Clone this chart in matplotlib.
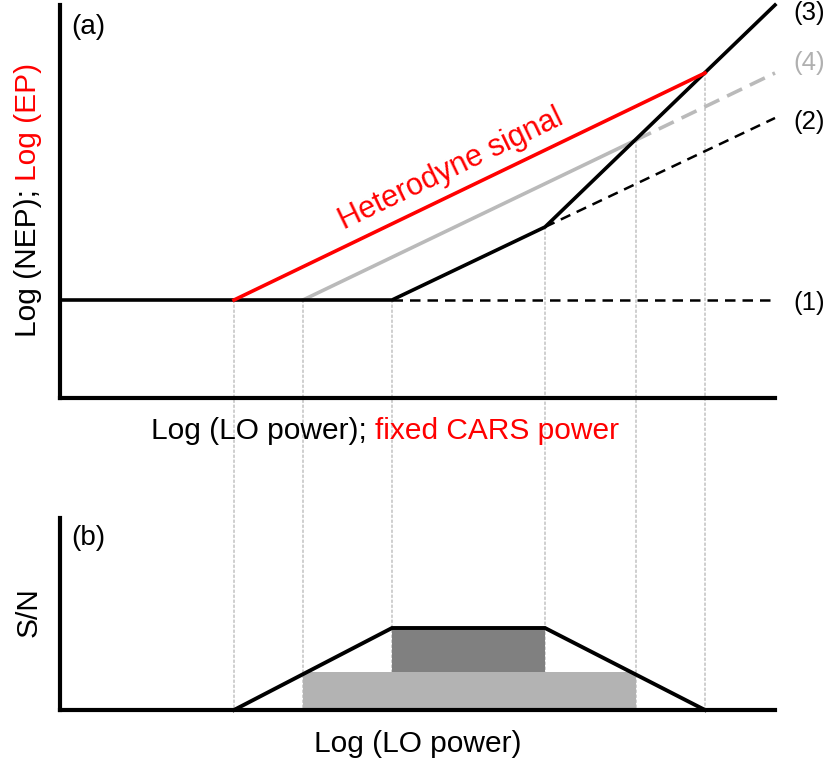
import matplotlib
matplotlib.use("Agg")
import matplotlib.pyplot as plt
from matplotlib.patches import ConnectionPatch, Rectangle

plt.rcParams['font.family'] = ['Liberation Sans', 'DejaVu Sans']

W, H = 828, 763

# breakpoints along Log(LO power), arbitrary units
lo_ep = 1.74      # heterodyne signal starts rising
lo_gray = 2.43    # curve (4) starts rising
lo_knee1 = 3.32   # NEP starts rising
lo_knee2 = 4.85   # NEP slope changes
lo_cross4 = 5.76  # (3) meets (4)
lo_cross_ep = 6.45  # (3) meets signal
lo_max = 7.15

nep_floor = 0.98

# panel (a) curves
nep_x = [0, lo_knee1, lo_knee2, lo_max]
nep_y = [nep_floor, nep_floor, 1.71, 3.93]
floor_dash_x = [lo_knee1, lo_max]
floor_dash_y = [nep_floor, nep_floor]
nep2_dash_x = [lo_knee2, lo_max]
nep2_dash_y = [1.71, 2.80]
ep_x = [lo_ep, lo_cross_ep]
ep_y = [nep_floor, 3.25]
gray_x = [lo_gray, lo_cross4]
gray_y = [nep_floor, 2.58]
gray_dash_x = [lo_cross4, lo_max]
gray_dash_y = [2.58, 3.25]

# dotted guides: x position and height in panel (a)
guide_x = [lo_ep, lo_gray, lo_knee1, lo_knee2, lo_cross4, lo_cross_ep]
guide_y = [nep_floor, nep_floor, nep_floor, 1.71, 2.58, 3.25]

# panel (b)
sn_x = [lo_ep, lo_knee1, lo_knee2, lo_cross_ep]
sn_y = [0, 0.82, 0.82, 0]
dark_box = (lo_knee1, lo_knee2, 0.38, 0.82)
light_box = (lo_gray, lo_cross4, 0.0, 0.38)


def fx(px):
    return px / W


def fy(py):
    return 1 - py / H


fig = plt.figure(figsize=(W / 100, H / 100), dpi=100)
ax_a = fig.add_axes([fx(60), fy(398), (775 - 60) / W, (398 - 5) / H])
ax_b = fig.add_axes([fx(60), fy(710), (775 - 60) / W, (710 - 518) / H])

for ax in (ax_a, ax_b):
    ax.patch.set_facecolor('none')
    for s in ('top', 'right'):
        ax.spines[s].set_visible(False)
    for s in ('left', 'bottom'):
        ax.spines[s].set_linewidth(3)
        ax.spines[s].set_capstyle('projecting')
    ax.set_xticks([])
    ax.set_yticks([])
    ax.set_xlim(0, lo_max)

ax_a.set_ylim(0, 3.93)
ax_b.set_ylim(0, 1.92)

red = '#ff0000'
gray = '#bababa'

ax_a.plot(floor_dash_x, floor_dash_y, color='k', lw=1.8, dashes=(4.2, 2.8), clip_on=False)
ax_a.plot(nep2_dash_x, nep2_dash_y, color='k', lw=1.8, dashes=(4.2, 2.8), clip_on=False)
ax_a.plot(gray_dash_x, gray_dash_y, color=gray, lw=2.6, dashes=(4.6, 2.4), clip_on=False)
ax_a.plot(gray_x, gray_y, color=gray, lw=2.6, clip_on=False)
ax_a.plot(nep_x, nep_y, color='k', lw=2.6, clip_on=False, solid_joinstyle='miter')
ax_a.plot(ep_x, ep_y, color=red, lw=2.6, clip_on=False)

ax_a.text(3.94, 2.21, 'Heterodyne signal', color=red, fontsize=22,
          rotation=25.7, rotation_mode='anchor', ha='center', va='baseline')

# panel (b)
x0, x1, y0, y1 = light_box
ax_b.add_patch(Rectangle((x0, y0), x1 - x0, y1 - y0, color='#b3b3b3', lw=0))
x0, x1, y0, y1 = dark_box
ax_b.add_patch(Rectangle((x0, y0), x1 - x0, y1 - y0, color='#808080', lw=0))
ax_b.plot(sn_x, sn_y, color='k', lw=2.8, clip_on=False, solid_joinstyle='miter')

for gx, gy in zip(guide_x, guide_y):
    con = ConnectionPatch(xyA=(gx, gy), coordsA=ax_a.transData,
                          xyB=(gx, 0), coordsB=ax_b.transData,
                          color='#b5b5b5', lw=0.9, linestyle=(0, (2, 2)), zorder=-1)
    fig.add_artist(con)

fs = 21.5
renderer = fig.canvas.get_renderer()

# x label (a), two colours
t1 = fig.text(fx(151), fy(439), 'Log (LO power);', fontsize=fs, ha='left', va='baseline')
bb = t1.get_window_extent(renderer)
fig.text(fx(bb.x1 + 8.5), fy(439), 'fixed CARS power', color=red, fontsize=fs,
         ha='left', va='baseline')

# y label (a), two colours
t2 = fig.text(fx(36), fy(337), 'Log (NEP);', fontsize=fs, rotation=90,
              rotation_mode='anchor', ha='left', va='baseline')
bb = t2.get_window_extent(renderer)
fig.text(fx(36), (bb.y1 + 8.5) / H, 'Log (EP)', color=red, fontsize=fs, rotation=90,
         rotation_mode='anchor', ha='left', va='baseline')

fig.text(fx(71), fy(34), '(a)', fontsize=20, ha='left', va='baseline')
fig.text(fx(71), fy(545), '(b)', fontsize=20, ha='left', va='baseline')

fig.text(fx(37), fy(612), 'S/N', fontsize=fs, rotation=90,
         rotation_mode='anchor', ha='center', va='baseline')
fig.text(fx(418), fy(752), 'Log (LO power)', fontsize=fs, ha='center', va='baseline')

curve_labels = ['(3)', '(4)', '(2)', '(1)']
curve_label_y = [13, 63, 122, 303]
curve_label_colors = ['k', '#b0b0b0', 'k', 'k']
for lab, ly, c in zip(curve_labels, curve_label_y, curve_label_colors):
    fig.text(fx(793), fy(ly), lab, fontsize=18.5, color=c, ha='left', va='center')

fig.savefig('out.png', dpi=100)
